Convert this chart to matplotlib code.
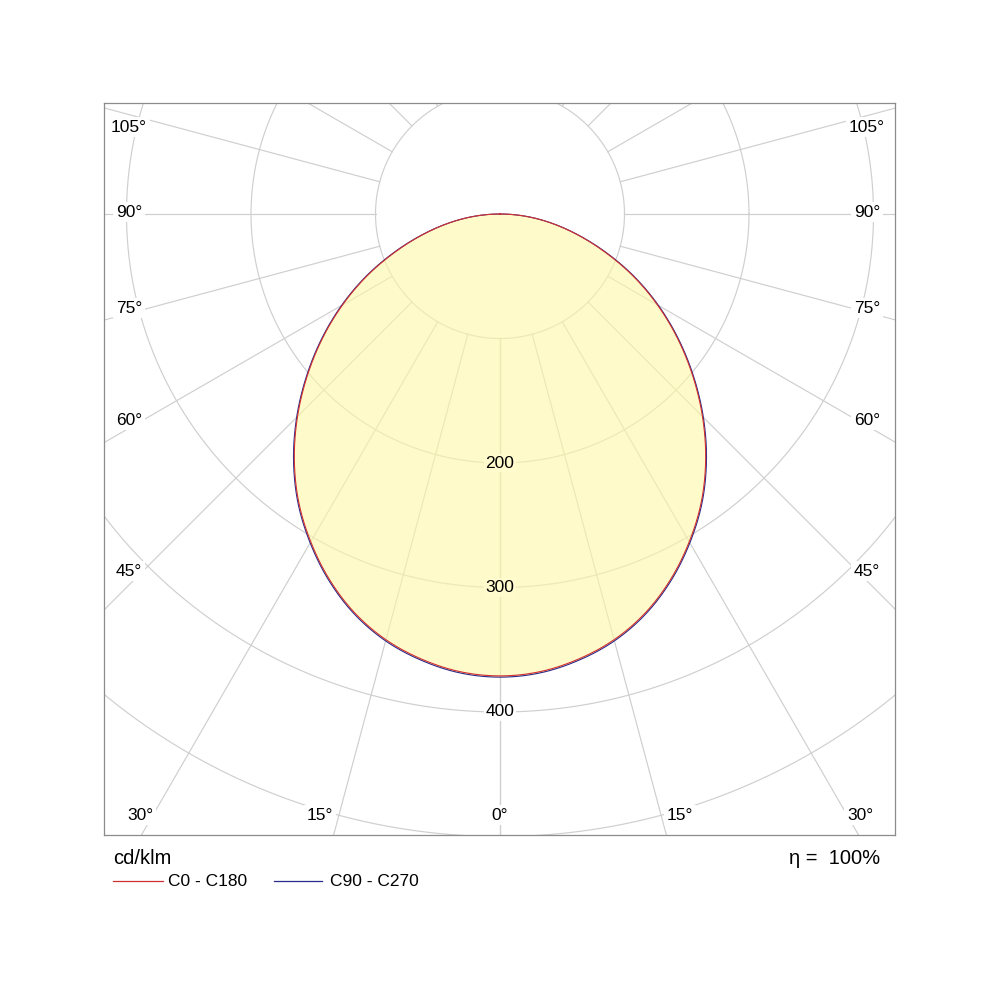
import numpy as np
import matplotlib
matplotlib.use("Agg")
import matplotlib.pyplot as plt
from matplotlib.lines import Line2D

plt.rcParams['font.family'] = ['Liberation Sans', 'DejaVu Sans']

# luminous intensity (cd/klm), gamma 0..90 in 5 deg steps
gamma = [0, 5, 10, 15, 20, 25, 30, 35, 40, 45, 50, 55, 60, 65, 70, 75, 80, 85, 90]
c0_c180 = [371, 369, 363, 354, 341, 324, 304, 282, 257, 230, 202, 174, 146, 118, 90, 64.5, 41.5, 20.5, 0]
c90_c270 = [372, 370, 364, 355, 342, 325, 305, 283, 258, 231, 203, 175, 147, 119, 91, 65, 42, 20.5, 0]

rings = [100, 200, 300, 400, 500]
ring_labels = [200, 300, 400]
spokes = np.arange(0, 181, 15)
side_deg = [105, 90, 75, 60, 45]
bottom_deg = [0, 15, 30]

# layout in pixels (figure 1000x1000)
k = 1.245          # px per cd/klm
cx, cy = 500, 214  # pole of the diagram
L, R, T, B = 104, 895, 103, 835

fig = plt.figure(figsize=(10, 10), dpi=100)
ax = fig.add_axes([L / 1000, 1 - B / 1000, (R - L) / 1000, (B - T) / 1000])
ax.set_xlim(-(cx - L) / k, (R - cx) / k)
ax.set_ylim(-(B - cy) / k, (cy - T) / k)
ax.set_xticks([]); ax.set_yticks([])
for s in ax.spines.values():
    s.set_color('#8c8c8c'); s.set_linewidth(0.9)

def px(x, y):
    return (x - cx) / k, (cy - y) / k

grid_c = '#cfcfcf'
t = np.linspace(0, 2 * np.pi, 720)
for r in rings:
    ax.plot(r * np.cos(t), r * np.sin(t), color=grid_c, lw=0.85, zorder=1)
for a in spokes:
    th = np.radians(a)
    for sgn in (-1, 1):
        ax.plot([sgn * 100 * np.sin(th), sgn * 900 * np.sin(th)],
                [-100 * np.cos(th), -900 * np.cos(th)], color=grid_c, lw=0.85, zorder=1)

def smooth_curve(vals):
    # Catmull-Rom in (gamma, I) between the measured values, then to x/y
    v = [vals[1]] + list(vals) + [-vals[-2]]
    gs, Is = [], []
    s = np.linspace(0, 1, 12, endpoint=False)
    for i in range(len(gamma) - 1):
        p0, p1, p2, p3 = v[i], v[i + 1], v[i + 2], v[i + 3]
        Is.append(0.5 * (2 * p1 + (p2 - p0) * s + (2 * p0 - 5 * p1 + 4 * p2 - p3) * s ** 2
                         + (3 * p1 - p0 - 3 * p2 + p3) * s ** 3))
        gs.append(gamma[i] + (gamma[i + 1] - gamma[i]) * s)
    g = np.radians(np.append(np.concatenate(gs), gamma[-1]))
    I = np.clip(np.append(np.concatenate(Is), vals[-1]), 0, None)
    x = np.concatenate([-(I * np.sin(g))[::-1], (I * np.sin(g))[1:]])
    y = np.concatenate([-(I * np.cos(g))[::-1], -(I * np.cos(g))[1:]])
    return x, y

x90, y90 = smooth_curve(c90_c270)
x0, y0 = smooth_curve(c0_c180)
ax.fill(x90, y90, color='#fff8a8', alpha=0.62, lw=0, zorder=2)
ax.plot(x90, y90, color='#2a2a8c', lw=0.8, zorder=3)
ax.plot(x0, y0, color='#d03030', lw=0.8, zorder=3)

fill_bg = '#fffbcc'
for r in ring_labels:
    inside = r < c0_c180[0]
    ax.text(0, -r, str(r), ha='center', va='center', fontsize=12.5, zorder=4,
            bbox=dict(boxstyle='square,pad=0.1', fc=fill_bg if inside else 'white', ec='none'))

side_y = {105: 127, 90: 212, 75: 308, 60: 420, 45: 571}
for d in side_deg:
    for xx in (129, 867):
        ax.text(*px(xx, side_y[d]), f'{d}°', ha='center', va='center', fontsize=12.5, zorder=4,
                bbox=dict(boxstyle='square,pad=0.15', fc='white', ec='none'))
bottom_dx = {0: 0, 15: 180, 30: 360}
for d in bottom_deg:
    for sgn in ((1,) if d == 0 else (-1, 1)):
        ax.text(*px(cx + sgn * bottom_dx[d], 815), f'{d}°', ha='center', va='center', fontsize=12.5,
                zorder=4, bbox=dict(boxstyle='square,pad=0.15', fc='white', ec='none'))

fig.text(113 / 1000, 1 - 858 / 1000, 'cd/klm', ha='left', va='center', fontsize=14.5)
fig.text(880 / 1000, 1 - 858 / 1000, 'η =  100%', ha='right', va='center', fontsize=14.5)
fig.add_artist(Line2D([113 / 1000, 163 / 1000], [1 - 881 / 1000] * 2, color='#d03030', lw=0.9))
fig.text(168 / 1000, 1 - 881 / 1000, 'C0 - C180', ha='left', va='center', fontsize=12.5)
fig.add_artist(Line2D([274 / 1000, 322 / 1000], [1 - 881 / 1000] * 2, color='#2a2a8c', lw=0.9))
fig.text(330 / 1000, 1 - 881 / 1000, 'C90 - C270', ha='left', va='center', fontsize=12.5)

fig.savefig('out.png', dpi=100)
